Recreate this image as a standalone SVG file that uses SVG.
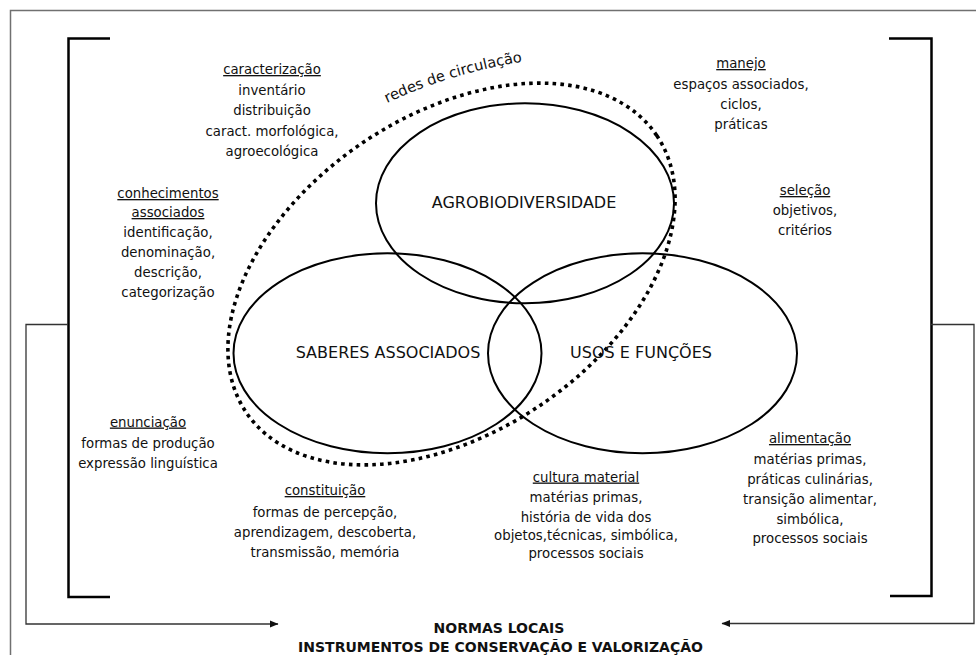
<svg xmlns="http://www.w3.org/2000/svg" width="976" height="655" viewBox="0 0 976 655">
<style>
  text { font-family: "DejaVu Sans", "Liberation Sans", sans-serif; fill: #111; }
  .t { font-size: 13.3px; text-anchor: middle; }
  .h { text-decoration: underline; }
  .big { font-size: 16px; text-anchor: middle; }
  .foot { font-size: 14px; font-weight: bold; text-anchor: middle; }
  .circle { fill: none; stroke: #000; stroke-width: 2; }
  .bracket { fill: none; stroke: #000; stroke-width: 2.5; }
  .frame { fill: none; stroke: #707070; stroke-width: 1.5; }
  .conn { fill: none; stroke: #333; stroke-width: 1.3; }
</style>
<defs>
  <marker id="arr" markerWidth="9" markerHeight="8" refX="8" refY="4" orient="auto" markerUnits="userSpaceOnUse">
    <path d="M0,0.5 L8.5,4 L0,7.5 Z" fill="#111"/>
  </marker>
</defs>
<rect width="976" height="655" fill="#fff"/>
<path class="frame" d="M10.5,655 V10.5 H976"/>

<g id="brackets">
  <path class="bracket" d="M110,38.5 H68.5 V597 H110"/>
  <path class="bracket" d="M889,38.5 H931.5 V596 H890"/>
</g>

<g id="connectors">
  <path class="conn" d="M68,324.5 H26 V624 H278" marker-end="url(#arr)"/>
  <path class="conn" d="M931,324.5 H974 V623.5 H722" marker-end="url(#arr)"/>
</g>

<g id="redes-de-circulacao">
  <ellipse cx="451.5" cy="274" rx="247.6" ry="158.5" transform="rotate(-34 451.5 274)" fill="none" stroke="#000" stroke-width="3.6" stroke-dasharray="3.6 4.2"/>
  <path id="redesPath" d="M387,103 Q453,72 527,61" fill="none"/>
  <text style="font-size:14.6px"><textPath href="#redesPath">redes de circulação</textPath></text>
</g>

<g id="agrobiodiversidade">
  <ellipse class="circle" cx="525" cy="203.3" rx="149" ry="100"/>
  <text class="big" x="524" y="207.5">AGROBIODIVERSIDADE</text>
</g>
<g id="saberes-associados">
  <ellipse class="circle" cx="387.5" cy="353.3" rx="154" ry="100"/>
  <text class="big" x="388" y="357.5">SABERES ASSOCIADOS</text>
</g>
<g id="usos-e-funcoes">
  <ellipse class="circle" cx="642.5" cy="353.3" rx="154.5" ry="100"/>
  <text class="big" x="641" y="357.5">USOS E FUNÇÕES</text>
</g>

<g id="caracterizacao" class="t">
  <text class="t h" x="272" y="74">caracterização</text>
  <text class="t" x="272" y="94.5">inventário</text>
  <text class="t" x="272" y="115">distribuição</text>
  <text class="t" x="272" y="135.5">caract. morfológica,</text>
  <text class="t" x="272" y="156">agroecológica</text>
</g>
<g id="manejo">
  <text class="t h" x="741" y="68">manejo</text>
  <text class="t" x="741" y="88.5">espaços associados,</text>
  <text class="t" x="741" y="109">ciclos,</text>
  <text class="t" x="741" y="129">práticas</text>
</g>
<g id="selecao">
  <text class="t h" x="805" y="195">seleção</text>
  <text class="t" x="805" y="215">objetivos,</text>
  <text class="t" x="805" y="235">critérios</text>
</g>
<g id="conhecimentos-associados">
  <text class="t h" x="168" y="198">conhecimentos</text>
  <text class="t h" x="168" y="217">associados</text>
  <text class="t" x="168" y="237">identificação,</text>
  <text class="t" x="168" y="257">denominação,</text>
  <text class="t" x="168" y="277">descrição,</text>
  <text class="t" x="168" y="297">categorização</text>
</g>
<g id="enunciacao">
  <text class="t h" x="148" y="426.5">enunciação</text>
  <text class="t" x="148" y="448">formas de produção</text>
  <text class="t" x="148" y="468">expressão linguística</text>
</g>
<g id="constituicao">
  <text class="t h" x="325" y="495">constituição</text>
  <text class="t" x="325" y="516.5">formas de percepção,</text>
  <text class="t" x="325" y="537">aprendizagem, descoberta,</text>
  <text class="t" x="325" y="557">transmissão, memória</text>
</g>
<g id="cultura-material">
  <text class="t h" x="586" y="481.5">cultura material</text>
  <text class="t" x="586" y="502">matérias primas,</text>
  <text class="t" x="586" y="521.5">história de vida dos</text>
  <text class="t" x="586" y="540">objetos,técnicas, simbólica,</text>
  <text class="t" x="586" y="557.5">processos sociais</text>
</g>
<g id="alimentacao">
  <text class="t h" x="810" y="443">alimentação</text>
  <text class="t" x="810" y="463.5">matérias primas,</text>
  <text class="t" x="810" y="483.5">práticas culinárias,</text>
  <text class="t" x="810" y="503.5">transição alimentar,</text>
  <text class="t" x="810" y="523.5">simbólica,</text>
  <text class="t" x="810" y="543">processos sociais</text>
</g>

<g id="normas">
  <text class="foot" x="499" y="633">NORMAS LOCAIS</text>
  <text class="foot" x="500.5" y="652">INSTRUMENTOS DE CONSERVAÇÃO E VALORIZAÇÃO</text>
</g>
</svg>
